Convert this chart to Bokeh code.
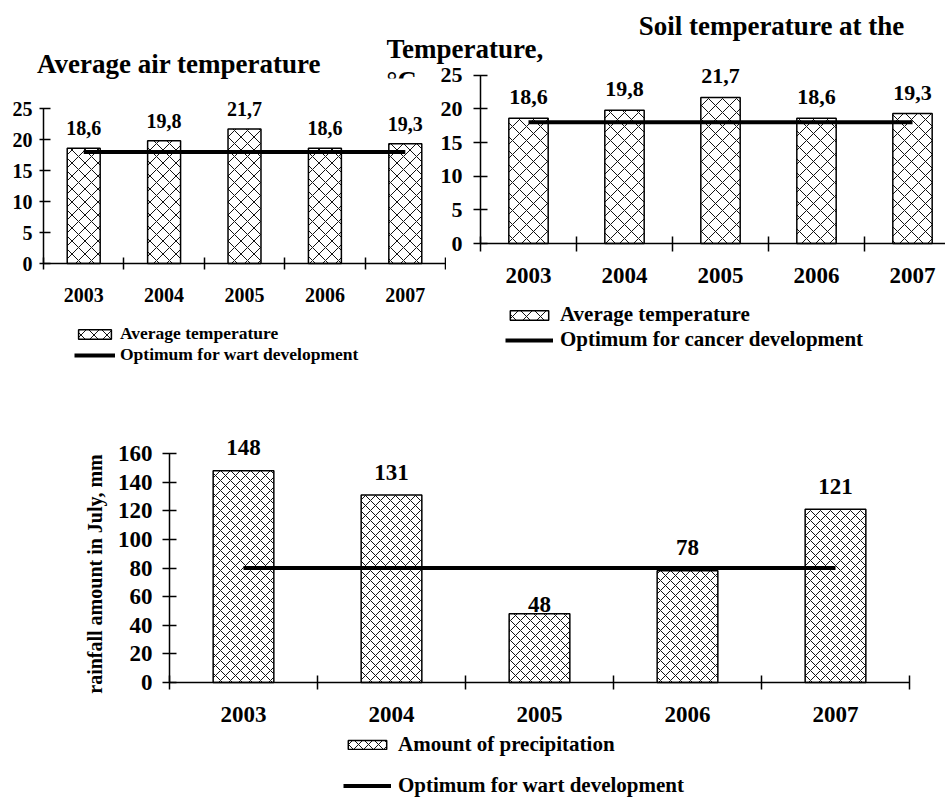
from math import pi

from bokeh.plotting import figure
from bokeh.models import (Range1d, FixedTicker, Legend, LegendItem, Label,
                          BoxAnnotation)
from bokeh.layouts import column, row
from bokeh.embed import file_html
from bokeh.resources import INLINE
from bokeh.core.properties import value

# ---------------- data ----------------
years = ["2003", "2004", "2005", "2006", "2007"]
air_temp = [18.6, 19.8, 21.7, 18.6, 19.3]
air_optimum = [18, 18, 18, 18, 18]
soil_temp = [18.6, 19.8, 21.7, 18.6, 19.3]
soil_optimum = [18, 18, 18, 18, 18]
rainfall = [148, 131, 48, 78, 121]
rain_optimum = [80, 80, 80, 80, 80]
temp_ticks = [0, 5, 10, 15, 20, 25]
rain_ticks = [0, 20, 40, 60, 80, 100, 120, 140, 160]

# label offsets (styling, screen px)
rain_label_dy = [-23, -23, -9, -23, -23]

FONT = "Liberation Serif"

x_pos = [i + 0.5 for i in range(len(years))]
boundaries = list(range(len(years) + 1))


def make_fig(width, height, x0px, y0px, xs, ys):
    """Figure whose frame is the whole canvas; origin of the data at pixel
    (x0px, y0px) of the canvas, xs / ys pixels per data unit."""
    p = figure(width=width, height=height,
               x_range=Range1d(-x0px / xs, (width - x0px) / xs),
               y_range=Range1d(-(height - y0px) / ys, y0px / ys),
               output_backend="svg", toolbar_location=None, min_border=0)
    p.background_fill_alpha = 0
    p.border_fill_alpha = 0
    p.outline_line_color = None
    p.xgrid.visible = False
    p.ygrid.visible = False
    p.xaxis.fixed_location = 0
    p.yaxis.fixed_location = 0

    def to_data(px, py):
        return (px - x0px) / xs, (y0px - py) / ys
    return p, to_data


def style_axes(p, yticks, fs_y, fs_x, y_standoff, x_standoff,
               yt_in, yt_out, xt_in, xt_out):
    xa = p.xaxis[0]
    xa.ticker = FixedTicker(ticks=x_pos, minor_ticks=boundaries)
    xa.major_label_overrides = {x: y for x, y in zip(x_pos, years)}
    xa.bounds = (boundaries[0], boundaries[-1])
    xa.major_tick_in = 0
    xa.major_tick_out = 0
    xa.minor_tick_in = xt_in
    xa.minor_tick_out = xt_out
    xa.minor_tick_line_color = "black"
    xa.minor_tick_line_width = 1.5
    xa.axis_line_color = "black"
    xa.axis_line_width = 1.5
    xa.major_label_standoff = x_standoff
    xa.major_label_text_font = FONT
    xa.major_label_text_font_style = "bold"
    xa.major_label_text_font_size = fs_x
    xa.major_label_text_color = "black"

    ya = p.yaxis[0]
    ya.ticker = FixedTicker(ticks=yticks)
    ya.bounds = (yticks[0], yticks[-1])
    ya.major_tick_in = yt_in
    ya.major_tick_out = yt_out
    ya.major_tick_line_color = "black"
    ya.major_tick_line_width = 1.5
    ya.minor_tick_line_color = None
    ya.axis_line_color = "black"
    ya.axis_line_width = 1.5
    ya.major_label_standoff = y_standoff
    ya.major_label_text_font = FONT
    ya.major_label_text_font_style = "bold"
    ya.major_label_text_font_size = fs_y
    ya.major_label_text_color = "black"


def hatched_bars(p, values, scale):
    return p.vbar(x=x_pos, top=values, width=0.41, fill_color="white",
                  line_color="black", line_width=1.5,
                  hatch_pattern="diagonal_cross", hatch_scale=scale,
                  hatch_color="#111111", hatch_weight=1)


def txt(s, xy, size, align="center", baseline="middle", angle=0):
    return Label(x=xy[0], y=xy[1], text=s,
                 text_font=FONT, text_font_style="bold",
                 text_font_size=size, text_color="black",
                 text_align=align, text_baseline=baseline, angle=angle)


def make_legend(items, loc, gw, gh, standoff, fs, spacing):
    return Legend(items=items, location=loc, glyph_width=gw, glyph_height=gh,
                  label_standoff=standoff, padding=0, spacing=spacing,
                  margin=0, border_line_color=None, background_fill_alpha=0,
                  label_text_font=FONT, label_text_font_style="bold",
                  label_text_font_size=fs, label_text_color="black",
                  label_height=16)


TOP_H = 370

# ---------------- top-left: air temperature ----------------
p1, d1 = make_fig(446, TOP_H, 43, 263, 80.4, 6.2)
style_axes(p1, temp_ticks, "20px", "20px", 7, 18, 7, 4, 6, 6)
air_bars = hatched_bars(p1, air_temp, 13)
air_line = p1.line(x=x_pos, y=air_optimum, line_color="black", line_width=4)
p1.text(x=x_pos, y=air_temp,
        text=[f"{v:.1f}".replace(".", ",") for v in air_temp],
        y_offset=-20, text_align="center", text_baseline="middle",
        text_font=value(FONT), text_font_style="bold",
        text_font_size="20px", text_color="black")
p1.add_layout(txt("Average air temperature", d1(178.5, 63), "27px"))
p1.add_layout(make_legend(
    [LegendItem(label="Average temperature", renderers=[air_bars]),
     LegendItem(label="Optimum for wart development", renderers=[air_line])],
    (74, TOP_H - 365), 41, 12, 5, "17.5px", 0))

# ---------------- top-right: soil temperature ----------------
P2_LEFT = 386
p2, d2 = make_fig(945 - P2_LEFT, TOP_H, 480 - P2_LEFT, 243, 96, 6.733)
p2.margin = (0, 0, 0, P2_LEFT - 446)
style_axes(p2, temp_ticks, "22px", "23px", 11, 16, 7, 7, 7, 8)
soil_bars = hatched_bars(p2, soil_temp, 14)
soil_line = p2.line(x=x_pos, y=soil_optimum, line_color="black", line_width=4)
p2.text(x=x_pos, y=soil_temp,
        text=[f"{v:.1f}".replace(".", ",") for v in soil_temp],
        y_offset=-21, text_align="center", text_baseline="middle",
        text_font=value(FONT), text_font_style="bold",
        text_font_size="22px", text_color="black")
p2.add_layout(txt("Soil temperature at the", d2(771 - P2_LEFT, 25), "27px"))
p2.add_layout(txt("Temperature,", d2(0, 48), "27px", align="left"))
p2.add_layout(txt("°C", d2(0, 80), "27px", align="left"))
bl, bt = d2(0, 78)
br, bb = d2(45, 100)
p2.add_layout(BoxAnnotation(left=bl, right=br, bottom=bb, top=bt,
                            fill_color="white", fill_alpha=1, line_color=None))
p2.add_layout(make_legend(
    [LegendItem(label="Average temperature", renderers=[soil_bars]),
     LegendItem(label="Optimum for cancer development", renderers=[soil_line])],
    (505 - P2_LEFT, TOP_H - 352), 48, 12, 7, "21px", 0))

# ---------------- bottom: rainfall ----------------
P3_H = 430
p3, d3 = make_fig(945, P3_H, 169, 682 - TOP_H, 148, 229 / 160)
style_axes(p3, rain_ticks, "23px", "23px", 10, 17, 7, 7, 7, 7)
rain_bars = hatched_bars(p3, rainfall, 10)
rain_line = p3.line(x=x_pos, y=rain_optimum, line_color="black", line_width=4)
p3.text(x=x_pos, y=rainfall, text=[str(v) for v in rainfall],
        y_offset=rain_label_dy, text_align="center", text_baseline="middle",
        text_font=value(FONT), text_font_style="bold",
        text_font_size="23px", text_color="black")
p3.add_layout(txt("rainfall amount in July, mm", d3(94, 573.5 - TOP_H), "20px",
                  angle=pi / 2))
p3.add_layout(make_legend(
    [LegendItem(label="Amount of precipitation", renderers=[rain_bars]),
     LegendItem(label="Optimum for wart development", renderers=[rain_line])],
    (343, 2), 48, 11, 7, "21px", 16))

layout = column(row(p1, p2), p3)

with open("out.html", "w") as f:
    f.write(file_html(layout, INLINE))
